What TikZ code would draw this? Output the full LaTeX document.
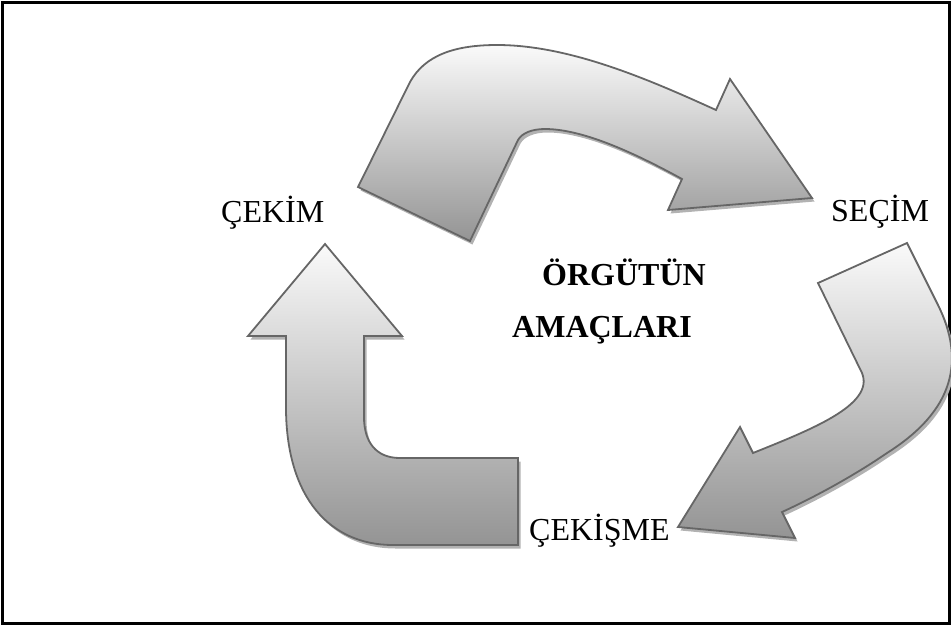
\documentclass[tikz,border=0pt]{standalone}
\usepackage{fontspec}
\setmainfont{Liberation Serif}
\usetikzlibrary{shadows}
\tikzset{
  bigarrow/.style={draw=black!60, line width=1.8pt, top color=black!2, bottom color=black!42,
    drop shadow={shadow xshift=2.5pt, shadow yshift=-3.5pt, fill=black!30, opacity=1}},
  lbl/.style={anchor=base west, inner sep=0pt, font=\fontsize{32}{38}\selectfont},
  blbl/.style={anchor=base west, inner sep=0pt, font=\fontsize{32}{38}\selectfont\bfseries}
}
\begin{document}
\begin{tikzpicture}[x=1pt,y=-1pt]
\useasboundingbox (0,0) rectangle (951,625);
\draw[line width=2.2pt] (2.5,2.5) rectangle (949.5,623.5);
% top arrow
\path[bigarrow] (358,187) -- (410,82) .. controls (425,55) and (455,45) .. (497,45)
  .. controls (570,45) and (650,80) .. (716,110) -- (730,79) -- (812,198) -- (668,210) -- (682,179)
  .. controls (640,156) and (585,129) .. (545,129) .. controls (532,129) and (522,133) .. (518,140)
  -- (470,241) -- cycle;
% right arrow
\path[bigarrow] (818,283) -- (907,243) -- (938,305) .. controls (965,360) and (955,410) .. (887,453)
  .. controls (855,475) and (815,497) .. (782,512) -- (795,538) -- (678,527) -- (740,427) -- (753,453)
  .. controls (810,430) and (875,405) .. (862,373) -- cycle;
% left arrow
\path[bigarrow] (325,244) -- (402,336) -- (364,336) -- (364,417) .. controls (364,442) and (376,458) .. (400,458)
  -- (518,458) -- (518,545) -- (393,545) .. controls (330,545) and (287,498) .. (286,410)
  -- (286,336) -- (248,336) -- cycle;
% labels
\node[lbl] (cekim) at (221,222) {ÇEKİM};
\node[lbl] (secim) at (831,221) {SEÇİM};
\node[lbl] (cekisme) at (529,540) {ÇEKİŞME};
\node[blbl] (orgutun) at (542,285) {ÖRGÜTÜN};
\node[blbl] (amaclari) at (512,337) {AMAÇLARI};
\end{tikzpicture}
\end{document}
